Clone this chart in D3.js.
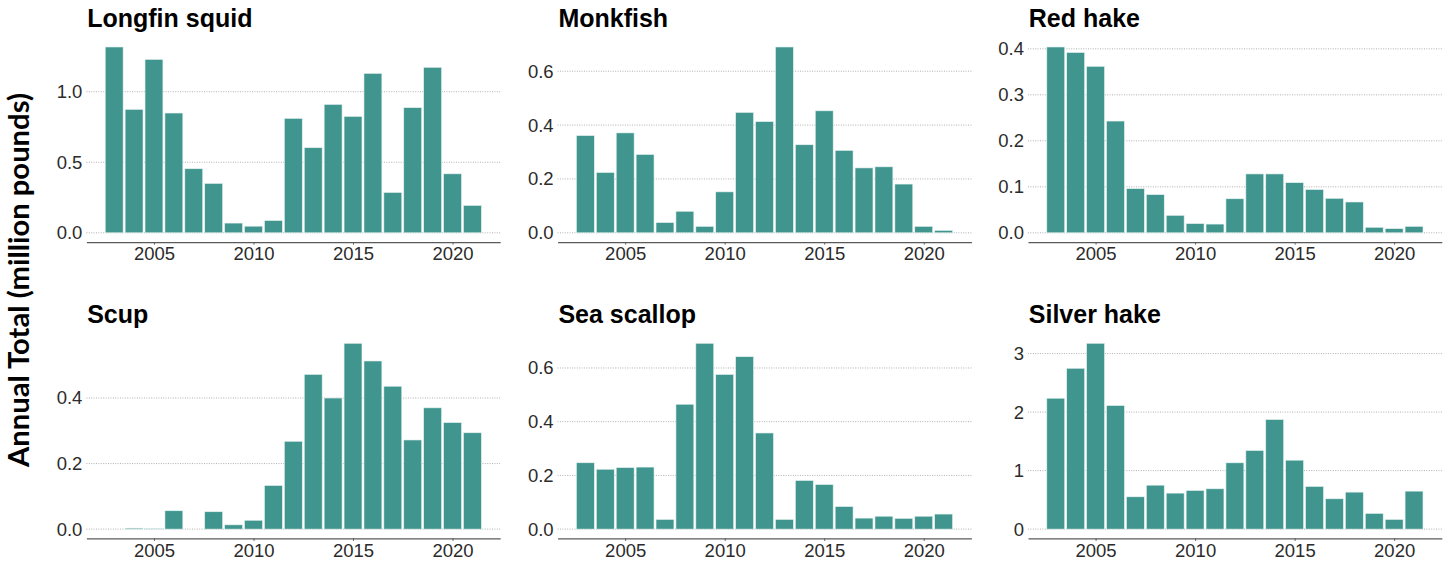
<!DOCTYPE html>
<html>
<head>
<meta charset="utf-8">
<script src="https://cdn.jsdelivr.net/npm/d3@7"></script>
<style>
  html, body { margin: 0; padding: 0; background: #ffffff; }
  svg { display: block; }
</style>
</head>
<body>
<svg id="chart" width="1450" height="563"></svg>
<script>
// Annual landings by species, 2003–2021 (million pounds)
const years = [2003, 2004, 2005, 2006, 2007, 2008, 2009, 2010, 2011, 2012,
               2013, 2014, 2015, 2016, 2017, 2018, 2019, 2020, 2021];

const species = ["Longfin squid", "Monkfish", "Red hake", "Scup", "Sea scallop", "Silver hake"];

const longfinSquid = [1.317, 0.875, 1.229, 0.849, 0.454, 0.350, 0.069, 0.047, 0.087, 0.811,
                      0.603, 0.910, 0.825, 1.130, 0.286, 0.887, 1.173, 0.418, 0.194];
const monkfish     = [0.361, 0.224, 0.371, 0.291, 0.038, 0.080, 0.024, 0.152, 0.447, 0.413,
                      0.690, 0.327, 0.453, 0.306, 0.241, 0.245, 0.181, 0.024, 0.009];
const redHake      = [0.404, 0.392, 0.362, 0.243, 0.096, 0.083, 0.038, 0.020, 0.019, 0.074,
                      0.128, 0.128, 0.109, 0.094, 0.075, 0.067, 0.012, 0.009, 0.014];
const scup         = [0.000, 0.003, 0.002, 0.056, 0.000, 0.053, 0.013, 0.027, 0.133, 0.268,
                      0.472, 0.400, 0.567, 0.513, 0.436, 0.272, 0.370, 0.325, 0.294];
const seaScallop   = [0.247, 0.223, 0.229, 0.231, 0.036, 0.465, 0.692, 0.576, 0.642, 0.358,
                      0.036, 0.181, 0.166, 0.084, 0.041, 0.048, 0.040, 0.048, 0.056];
const silverHake   = [2.237, 2.749, 3.176, 2.112, 0.552, 0.751, 0.615, 0.660, 0.689, 1.133,
                      1.343, 1.873, 1.178, 0.729, 0.518, 0.632, 0.268, 0.165, 0.649];

// Axis tick values for each panel
const xTicks = [2005, 2010, 2015, 2020];
const yTicksLongfin  = [0, 0.5, 1.0];
const yTicksMonkfish = [0, 0.2, 0.4, 0.6];
const yTicksRedHake  = [0, 0.1, 0.2, 0.3, 0.4];
const yTicksScup     = [0, 0.2, 0.4];
const yTicksScallop  = [0, 0.2, 0.4, 0.6];
const yTicksSilver   = [0, 1, 2, 3];

const yLabel = "Annual Total (million pounds)";

const panels = [
  { name: species[0], values: longfinSquid, ticks: yTicksLongfin,  fmt: d3.format(".1f") },
  { name: species[1], values: monkfish,     ticks: yTicksMonkfish, fmt: d3.format(".1f") },
  { name: species[2], values: redHake,      ticks: yTicksRedHake,  fmt: d3.format(".1f") },
  { name: species[3], values: scup,         ticks: yTicksScup,     fmt: d3.format(".1f") },
  { name: species[4], values: seaScallop,   ticks: yTicksScallop,  fmt: d3.format(".1f") },
  { name: species[5], values: silverHake,   ticks: yTicksSilver,   fmt: d3.format("d") }
];

// Layout
const colLeft = [86.4, 557.6, 1028];
const panelW = 413.8;
const rowTop = [37.7, 334];
const panelH = 204.4;
const barColor = "#40968f";
const barWidth = 0.9;
const tickFont = "'Liberation Sans', Arial, Helvetica, sans-serif";
const tickSize = 18.5;

const svg = d3.select("#chart");

// Shared x extent with 5% padding around the bar span
const xMin = d3.min(years) - barWidth / 2;
const xMax = d3.max(years) + barWidth / 2;
const xPad = (xMax - xMin) * 0.05;

panels.forEach((p, i) => {
  const col = i % 3, row = Math.floor(i / 3);
  const left = colLeft[col], top = rowTop[row];
  const g = svg.append("g").attr("transform", `translate(${left},${top})`);

  const x = d3.scaleLinear()
    .domain([xMin - xPad, xMax + xPad])
    .range([0, panelW]);

  const vMax = d3.max(p.values);
  const y = d3.scaleLinear()
    .domain([-0.05 * vMax, 1.05 * vMax])
    .range([panelH, 0]);

  // Dotted horizontal gridlines
  g.append("g")
    .selectAll("line")
    .data(p.ticks)
    .join("line")
    .attr("x1", 0).attr("x2", panelW)
    .attr("y1", d => y(d)).attr("y2", d => y(d))
    .attr("stroke", "#a8a8a8")
    .attr("stroke-width", 0.9)
    .attr("stroke-dasharray", "1,1.4");

  // Bars
  g.append("g")
    .selectAll("rect")
    .data(years.map((yr, k) => ({ yr, v: p.values[k] })).filter(d => d.v > 0))
    .join("rect")
    .attr("x", d => x(d.yr - barWidth / 2))
    .attr("width", d => x(d.yr + barWidth / 2) - x(d.yr - barWidth / 2))
    .attr("y", d => y(d.v))
    .attr("height", d => y(0) - y(d.v))
    .attr("fill", barColor)
    .attr("stroke", "#e6f2f0")
    .attr("stroke-width", 0.6);

  // Y axis labels
  const yAxis = d3.axisLeft(y).tickValues(p.ticks).tickFormat(p.fmt).tickSize(0).tickPadding(4);
  const ya = g.append("g").call(yAxis);
  ya.select(".domain").remove();
  ya.selectAll("text")
    .attr("font-family", tickFont)
    .attr("font-size", tickSize)
    .attr("fill", "#2b2b2b");

  // X axis with baseline and short ticks
  const xAxis = d3.axisBottom(x).tickValues(xTicks).tickFormat(d3.format("d"))
    .tickSizeInner(2.5).tickSizeOuter(0).tickPadding(2.5);
  const xa = g.append("g").attr("transform", `translate(0,${panelH})`).call(xAxis);
  xa.select(".domain").attr("stroke", "#5a5a5a").attr("stroke-width", 1.2);
  xa.selectAll(".tick line").attr("stroke", "#5a5a5a").attr("stroke-width", 1);
  xa.selectAll("text")
    .attr("font-family", tickFont)
    .attr("font-size", tickSize)
    .attr("fill", "#2b2b2b");

  // Panel title
  g.append("text")
    .attr("x", 0.8)
    .attr("y", -10.6)
    .attr("font-family", tickFont)
    .attr("font-weight", "bold")
    .attr("font-size", 25)
    .attr("fill", "#000")
    .text(p.name);
});

// Shared y-axis title
const yt = svg.append("text")
  .attr("transform", "translate(29,280) rotate(-90)")
  .attr("text-anchor", "middle")
  .attr("font-family", "Lato, 'Open Sans', sans-serif")
  .attr("font-weight", "bold")
  .attr("font-size", 22)
  .attr("fill", "#000")
  .text(yLabel);
// Fit the title to the column height
const len = yt.node().getComputedTextLength();
yt.attr("font-size", 22 * 374 / len);
</script>
</body>
</html>
